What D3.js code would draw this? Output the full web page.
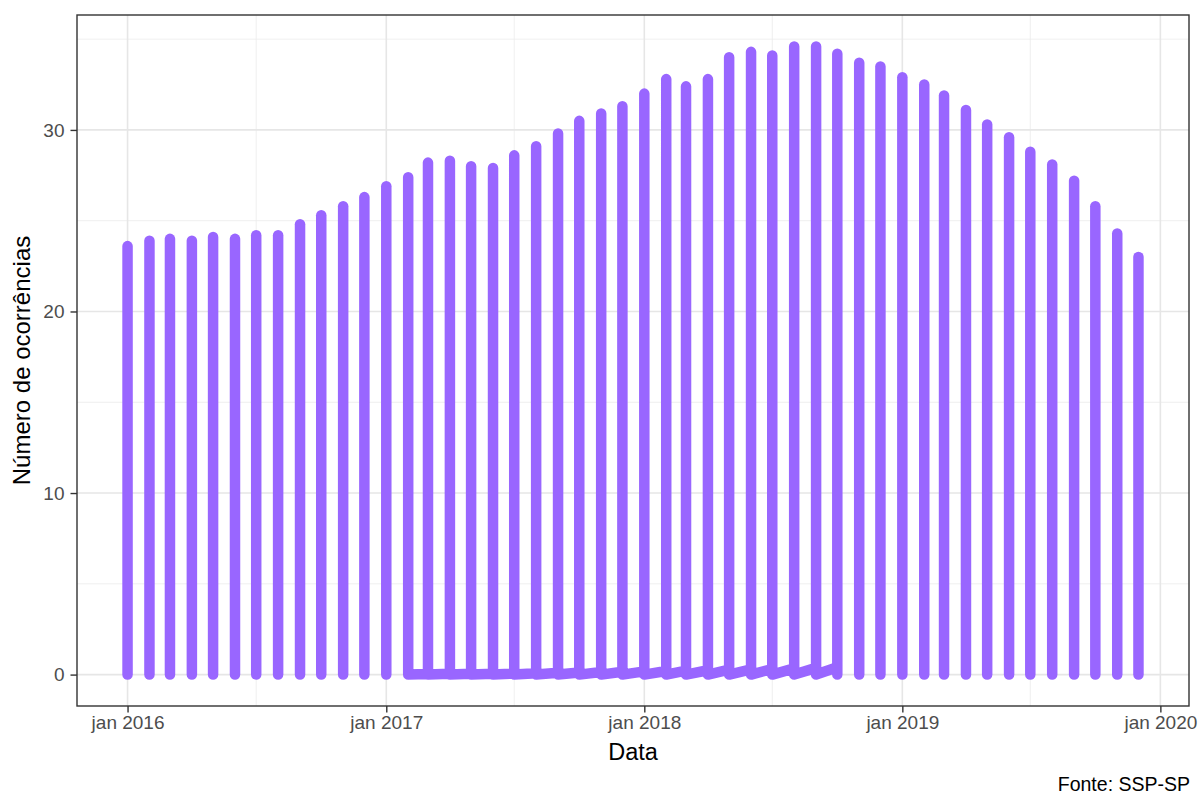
<!DOCTYPE html>
<html><head><meta charset="utf-8">
<script src="https://cdn.jsdelivr.net/npm/d3@7"></script>
<style>
body{margin:0;background:#fff}
svg{display:block}
text{font-family:"Liberation Sans",Arial,Helvetica,sans-serif}
</style>
</head><body>
<svg id="chart" width="1201" height="796"></svg>
<script>
// ---- data ----
const months = [
  "2016-01","2016-02","2016-03","2016-04","2016-05","2016-06","2016-07","2016-08","2016-09","2016-10","2016-11","2016-12",
  "2017-01","2017-02","2017-03","2017-04","2017-05","2017-06","2017-07","2017-08","2017-09","2017-10","2017-11","2017-12",
  "2018-01","2018-02","2018-03","2018-04","2018-05","2018-06","2018-07","2018-08","2018-09","2018-10","2018-11","2018-12",
  "2019-01","2019-02","2019-03","2019-04","2019-05","2019-06","2019-07","2019-08","2019-09","2019-10","2019-11","2019-12"
];
const ocorrencias = [
  23.6,23.9,24.0,23.9,24.1,24.0,24.2,24.2,24.8,25.3,25.8,26.3,
  26.9,27.4,28.2,28.3,28.0,27.9,28.6,29.1,29.8,30.5,30.9,31.3,
  32.0,32.8,32.4,32.8,34.0,34.3,34.1,34.6,34.6,34.2,33.7,33.5,
  32.9,32.5,31.9,31.1,30.3,29.6,28.8,28.1,27.2,25.8,24.3,23.0
];
// months joined by a line near zero, with the small start value of each
const baseMonths = [
  "2017-02","2017-03","2017-04","2017-05","2017-06","2017-07","2017-08","2017-09","2017-10","2017-11","2017-12",
  "2018-01","2018-02","2018-03","2018-04","2018-05","2018-06","2018-07","2018-08","2018-09","2018-10"
];
const baseValues = [
  0.02,0.03,0.04,0.05,0.05,0.06,0.08,0.10,0.12,0.14,0.16,
  0.18,0.20,0.22,0.24,0.27,0.29,0.31,0.34,0.37,0.40
];
const yTicks = [0,10,20,30];
const yMinorTicks = [5,15,25,35];
const xTickDates = ["2016-01","2017-01","2018-01","2019-01","2020-01"];
const xTickLabels = ["jan 2016","jan 2017","jan 2018","jan 2019","jan 2020"];
const xMinorDates = ["2016-07","2017-07","2018-07","2019-07"];

// ---- layout ----
const svg = d3.select("#chart");
const P = {left:77, right:1189, top:15, bottom:706};
const parse = d3.timeParse("%Y-%m");
const COLOR = "#9966FF";

const dates = months.map(parse);
const dExt = d3.extent(dates);
const span = dExt[1] - dExt[0];
const x = d3.scaleTime()
  .domain([new Date(+dExt[0] - 0.05*span), new Date(+dExt[1] + 0.05*span)])
  .range([P.left, P.right]);
const yMax = d3.max(ocorrencias);
const y = d3.scaleLinear()
  .domain([0 - 0.05*yMax, yMax*1.05])
  .range([P.bottom, P.top]);

// grid
const g = svg.append("g");
g.selectAll(".ymin").data(yMinorTicks).join("line")
  .attr("x1",P.left).attr("x2",P.right)
  .attr("y1",d=>y(d)).attr("y2",d=>y(d))
  .attr("stroke","#EBEBEB").attr("stroke-width",0.8);
g.selectAll(".xmin").data(xMinorDates.map(parse)).join("line")
  .attr("y1",P.top).attr("y2",P.bottom)
  .attr("x1",d=>x(d)).attr("x2",d=>x(d))
  .attr("stroke","#EBEBEB").attr("stroke-width",0.8);
g.selectAll(".ymaj").data(yTicks).join("line")
  .attr("x1",P.left).attr("x2",P.right)
  .attr("y1",d=>y(d)).attr("y2",d=>y(d))
  .attr("stroke","#E6E6E6").attr("stroke-width",1.6);
g.selectAll(".xmaj").data(xTickDates.map(parse)).join("line")
  .attr("y1",P.top).attr("y2",P.bottom)
  .attr("x1",d=>x(d)).attr("x2",d=>x(d))
  .attr("stroke","#E6E6E6").attr("stroke-width",1.6);

// marks
const line = d3.line().x(d=>x(d[0])).y(d=>y(d[1]));
const baseSet = new Set(baseMonths);
const marks = svg.append("g");
const LW = 10.5;
months.forEach((m,i)=>{
  if (baseSet.has(m)) return;
  const d = parse(m);
  marks.append("path")
    .attr("d", line([[d,0],[d,ocorrencias[i]]]))
    .attr("fill","none").attr("stroke",COLOR).attr("stroke-width",LW)
    .attr("stroke-linecap","round").attr("stroke-linejoin","round");
});
const pts = [];
baseMonths.forEach((m,j)=>{
  const d = parse(m);
  const v = ocorrencias[months.indexOf(m)];
  pts.push([d, baseValues[j]], [d, v], [d, 0]);
});
marks.append("path")
  .attr("d", line(pts))
  .attr("fill","none").attr("stroke",COLOR).attr("stroke-width",LW)
  .attr("stroke-linecap","round").attr("stroke-linejoin","round");

// panel border
svg.append("rect")
  .attr("x",P.left).attr("y",P.top)
  .attr("width",P.right-P.left).attr("height",P.bottom-P.top)
  .attr("fill","none").attr("stroke","#333333").attr("stroke-width",1.4);

// axes
const xAxis = d3.axisBottom(x)
  .tickValues(xTickDates.map(parse))
  .tickFormat((d,i)=>xTickLabels[i])
  .tickSize(6.5).tickPadding(3);
const gx = svg.append("g").attr("transform",`translate(0,${P.bottom})`).call(xAxis);
const yAxis = d3.axisLeft(y).tickValues(yTicks).tickFormat(d3.format("d")).tickSize(6.5).tickPadding(6);
const gy = svg.append("g").attr("transform",`translate(${P.left},0)`).call(yAxis);
[gx,gy].forEach(a=>{
  a.select(".domain").remove();
  a.selectAll(".tick line").attr("stroke","#333333").attr("stroke-width",1.4);
  a.selectAll(".tick text").attr("fill","#4D4D4D").style("font-size","19px")
    .style("font-family","'Liberation Sans',Arial,sans-serif");
});

// titles
svg.append("text").attr("x",(P.left+P.right)/2).attr("y",760)
  .attr("text-anchor","middle").style("font-size","23.5px").attr("fill","#000").text("Data");
svg.append("text").attr("transform",`translate(30,${(P.top+P.bottom)/2}) rotate(-90)`)
  .attr("text-anchor","middle").style("font-size","24px").attr("fill","#000").text("Número de ocorrências");
svg.append("text").attr("x",1190).attr("y",791)
  .attr("text-anchor","end").style("font-size","19.5px").attr("fill","#000").text("Fonte: SSP-SP");
</script>
</body></html>
